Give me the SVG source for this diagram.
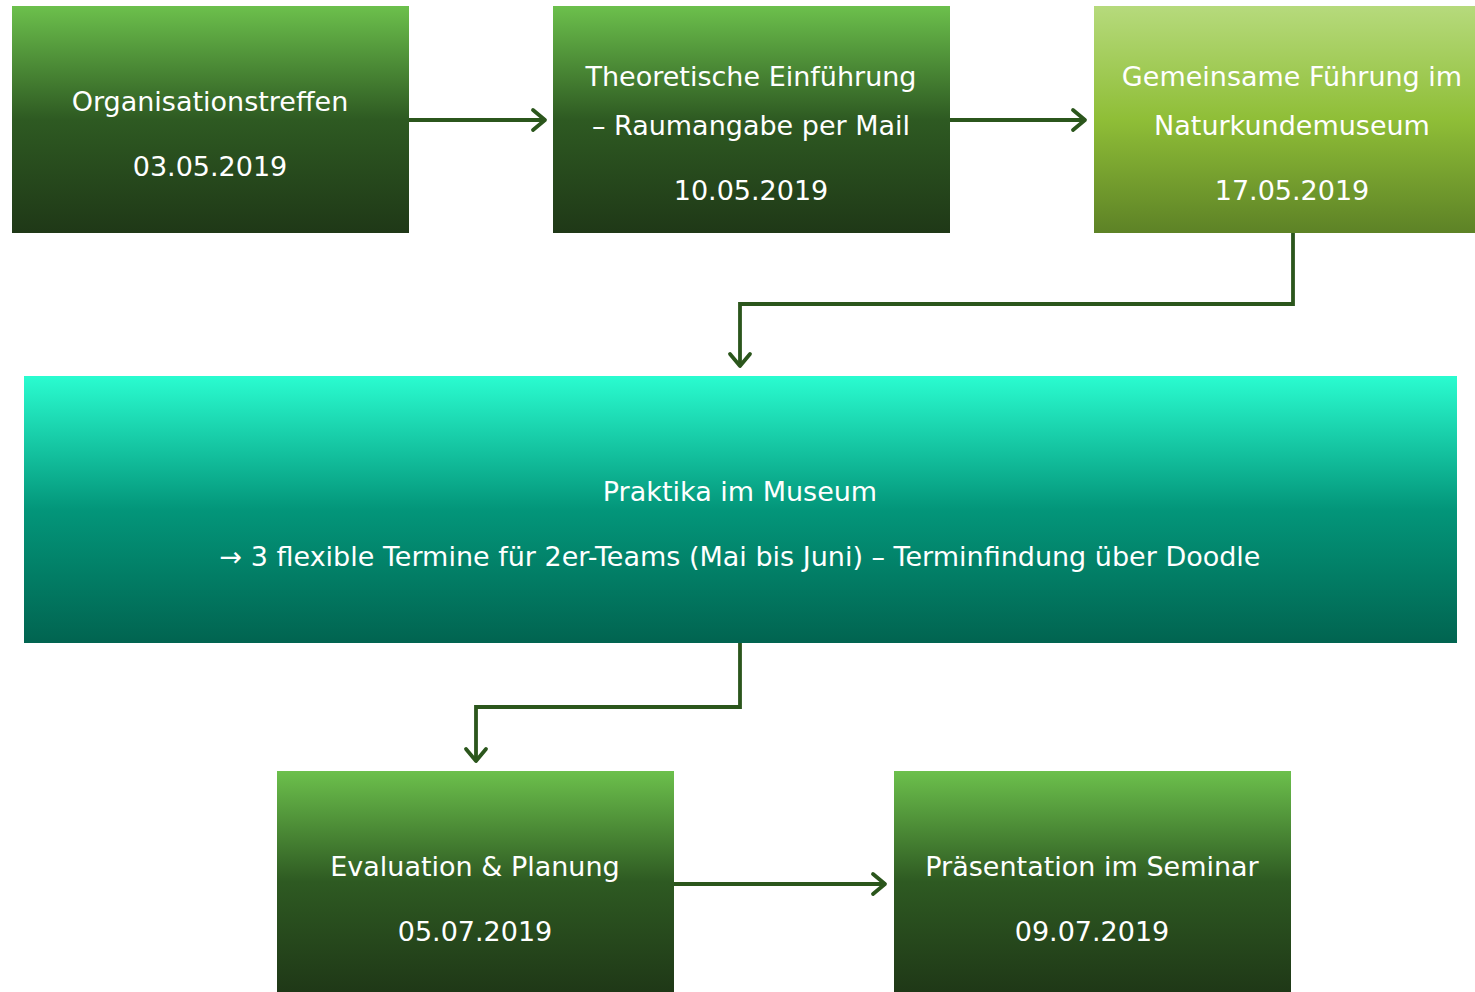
<svg xmlns="http://www.w3.org/2000/svg" width="1475" height="992" viewBox="0 0 1475 992">
<defs>
<linearGradient id="gDark" x1="0" y1="0" x2="0" y2="1">
<stop offset="0" stop-color="#6cc04c"/>
<stop offset="0.5" stop-color="#2e5a22"/>
<stop offset="1" stop-color="#1f3817"/>
</linearGradient>
<linearGradient id="gLight" x1="0" y1="0" x2="0" y2="1">
<stop offset="0" stop-color="#b6da7c"/>
<stop offset="0.5" stop-color="#8fbe37"/>
<stop offset="1" stop-color="#5d8226"/>
</linearGradient>
<linearGradient id="gTeal" x1="0" y1="0" x2="0" y2="1">
<stop offset="0" stop-color="#2afcd0"/>
<stop offset="0.5" stop-color="#03967a"/>
<stop offset="1" stop-color="#016450"/>
</linearGradient>
</defs>
<style>
text{font-family:"DejaVu Sans","Open Sans",sans-serif;font-size:27px;fill:#ffffff;text-anchor:middle}
.c{fill:none;stroke:#2b561c;stroke-width:3.8}
.h{fill:none;stroke:#2b561c;stroke-width:3.8;stroke-linecap:round;stroke-linejoin:round}
</style>
<rect width="1475" height="992" fill="#ffffff"/>
<g id="connectors">
<path class="c" d="M409,120 H545"/>
<path class="h" d="M533,110 L545,120 L533,130"/>
<path class="c" d="M950,120 H1085"/>
<path class="h" d="M1073,110 L1085,120 L1073,130"/>
<path class="c" d="M1293,233 V304 H740 V366"/>
<path class="h" d="M730,354 L740,366 L750,354"/>
<path class="c" d="M740,643 V707 H476 V761"/>
<path class="h" d="M466,749 L476,761 L486,749"/>
<path class="c" d="M674,884 H885"/>
<path class="h" d="M873,874 L885,884 L873,894"/>
</g>
<g id="n1">
<rect x="12" y="6" width="397" height="227" fill="url(#gDark)"/>
<text x="210" y="111">Organisationstreffen</text>
<text x="210" y="176">03.05.2019</text>
</g>
<g id="n2">
<rect x="553" y="6" width="397" height="227" fill="url(#gDark)"/>
<text x="751" y="86">Theoretische Einführung</text>
<text x="751" y="135">– Raumangabe per Mail</text>
<text x="751" y="200">10.05.2019</text>
</g>
<g id="n3">
<rect x="1094" y="6" width="381" height="227" fill="url(#gLight)"/>
<text x="1292" y="86">Gemeinsame Führung im</text>
<text x="1292" y="135">Naturkundemuseum</text>
<text x="1292" y="200">17.05.2019</text>
</g>
<g id="n4">
<rect x="24" y="376" width="1433" height="267" fill="url(#gTeal)"/>
<text x="740" y="501">Praktika im Museum</text>
<text x="740" y="566">→ 3 flexible Termine für 2er-Teams (Mai bis Juni) – Terminfindung über Doodle</text>
</g>
<g id="n5">
<rect x="277" y="771" width="397" height="221" fill="url(#gDark)"/>
<text x="475" y="876">Evaluation &amp; Planung</text>
<text x="475" y="941">05.07.2019</text>
</g>
<g id="n6">
<rect x="894" y="771" width="397" height="221" fill="url(#gDark)"/>
<text x="1092" y="876">Präsentation im Seminar</text>
<text x="1092" y="941">09.07.2019</text>
</g>
</svg>
